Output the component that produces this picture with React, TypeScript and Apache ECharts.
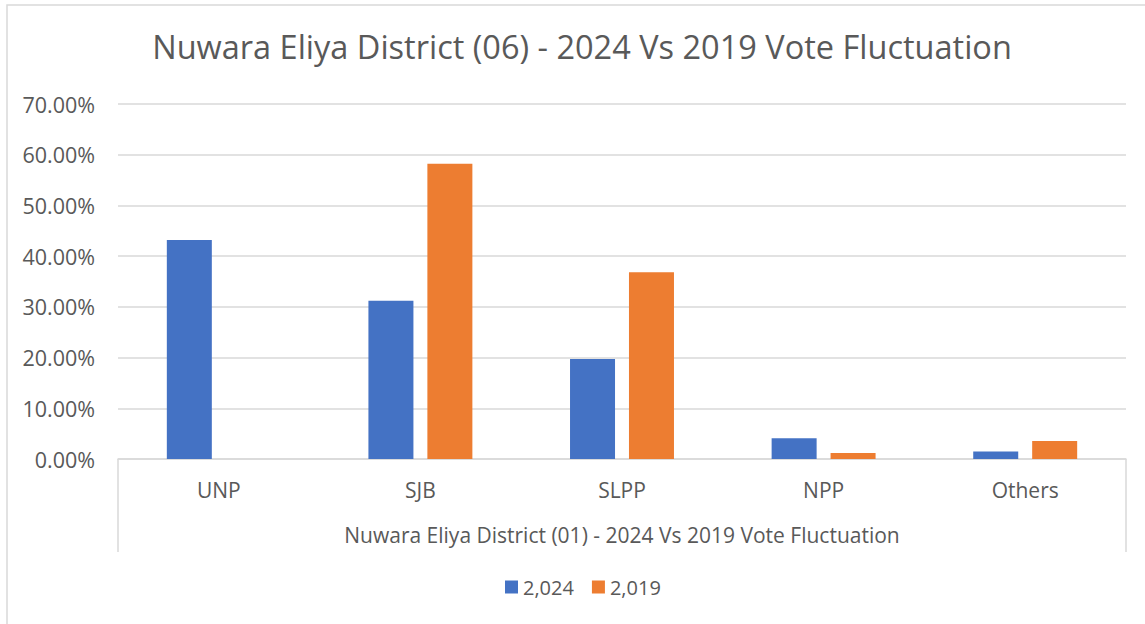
import React, { useEffect, useRef } from "react";
import * as echarts from "echarts";

const titleText = "Nuwara Eliya District (06) - 2024 Vs 2019 Vote Fluctuation";
const outerLabel = "Nuwara Eliya District (01) - 2024 Vs 2019 Vote Fluctuation";
const categories = ["UNP", "SJB", "SLPP", "NPP", "Others"];
const seriesNames = ["2,024", "2,019"];
const values2024 = [43.2, 31.2, 19.7, 4.1, 1.5];
const values2019 = [0, 58.2, 36.8, 1.2, 3.55];
const yMin = 0;
const yMax = 70;
const yInterval = 10;

const FONT = "'Open Sans', 'Noto Sans', sans-serif";
const TEXT = "#595959";
const GRID = "#d9d9d9";

export default function App() {
  const ref = useRef<HTMLDivElement>(null);
  useEffect(() => {
    if (!ref.current) return;
    const chart = echarts.init(ref.current, undefined, { renderer: "svg" });
    chart.setOption({
      animation: false,
      backgroundColor: "#ffffff",
      textStyle: { fontFamily: FONT },
      color: ["#4472C4", "#ED7D31"],
      title: {
        text: titleText,
        left: 577,
        top: 25,
        textAlign: "center",
        textStyle: { fontFamily: FONT, fontSize: 32.5, fontWeight: "normal", color: TEXT },
      },
      legend: {
        data: seriesNames,
        bottom: 22,
        left: 500,
        icon: "rect",
        itemWidth: 13,
        itemHeight: 13,
        itemGap: 18,
        textStyle: { fontFamily: FONT, fontSize: 20, color: TEXT },
      },
      graphic: [
        {
          type: "rect",
          shape: { x: 7, y: 5, width: 1300, height: 800 },
          style: { fill: "none", stroke: GRID, lineWidth: 1.5 },
          silent: true,
        },
      ],
      grid: { left: 118, right: 19, top: 104, bottom: 165, containLabel: false },
      xAxis: [
        {
          type: "category",
          data: categories,
          position: "bottom",
          axisLine: { show: true, lineStyle: { color: GRID, width: 1.5 } },
          axisTick: { show: false },
          axisLabel: { margin: 20, fontFamily: FONT, fontSize: 21, color: TEXT },
        },
        {
          type: "category",
          data: [outerLabel],
          position: "bottom",
          axisLine: { show: false },
          axisTick: { show: true, length: 93, alignWithLabel: false, lineStyle: { color: GRID, width: 1.5 } },
          axisLabel: { margin: 65, fontFamily: FONT, fontSize: 21, color: TEXT },
        },
      ],
      yAxis: {
        type: "value",
        min: yMin,
        max: yMax,
        interval: yInterval,
        axisLine: { show: false },
        axisTick: { show: false },
        splitLine: { lineStyle: { color: GRID, width: 1.5 } },
        axisLabel: {
          margin: 23,
          fontFamily: FONT,
          fontSize: 21.5,
          color: TEXT,
          formatter: (v: number) => v.toFixed(2) + "%",
        },
      },
      series: [
        {
          name: seriesNames[0],
          type: "bar",
          data: values2024,
          barWidth: 45,
          barGap: "31%",
        },
        {
          name: seriesNames[1],
          type: "bar",
          data: values2019,
          barWidth: 45,
          barGap: "31%",
        },
      ],
    });
    return () => chart.dispose();
  }, []);
  return (
    <div
      ref={ref}
      style={{ position: "fixed", left: 0, top: 0, width: 1145, height: 624 }}
    />
  );
}
